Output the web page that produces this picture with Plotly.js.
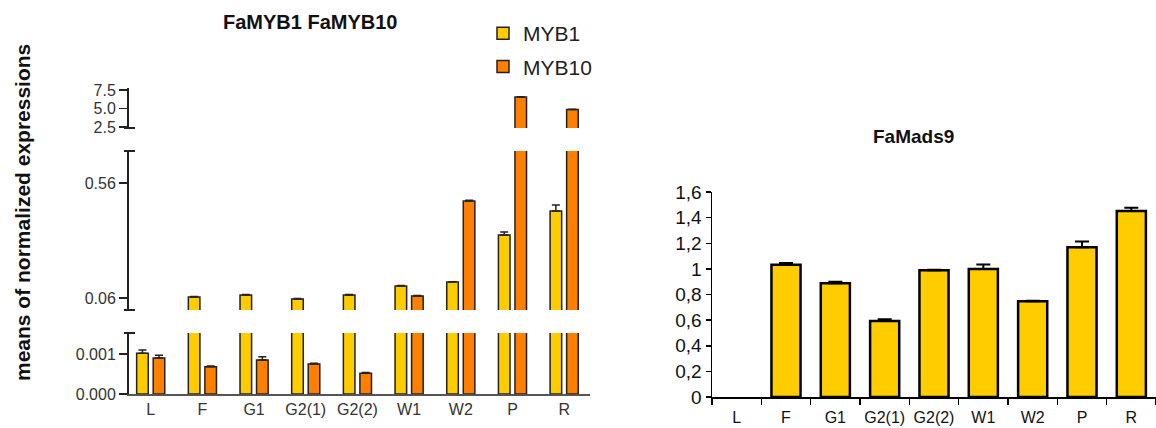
<!DOCTYPE html>
<html>
<head>
<meta charset="utf-8">
<script src="https://cdn.plot.ly/plotly-3.0.1.min.js"></script>
<style>html,body{margin:0;padding:0;background:#fff;}#chart{width:1156px;height:428px;}</style>
</head>
<body>
<div id="chart"></div>
<script>
// ---------- data ----------
const categories = ["L", "F", "G1", "G2(1)", "G2(2)", "W1", "W2", "P", "R"];

// FaMYB1 / FaMYB10 (left chart)
const myb1Values  = [0.00102, 0.064, 0.073, 0.056, 0.073, 0.112, 0.129, 0.334, 0.438];
const myb1Errors  = [0.00008, 0.002, 0.002, 0.002, 0.002, 0.002, 0.002, 0.013, 0.026];
const myb10Values = [0.00090, 0.00068, 0.00085, 0.00075, 0.00052, 0.069, 0.482, 6.55, 4.85];
const myb10Errors = [0.00007, 0.00002, 0.00008, 0.00002, 0.00002, 0.002, 0.003, 0.05, 0.05];

// FaMads9 (right chart) - no bar drawn for L
const mads9Values = [null, 1.033, 0.887, 0.593, 0.989, 0.999, 0.747, 1.169, 1.452];
const mads9Errors = [0, 0.013, 0.013, 0.013, 0.004, 0.036, 0.004, 0.044, 0.026];

// broken-axis tick labels
const topTickVals = [2.5, 5.0, 7.5];
const topTickText = ["2.5", "5.0", "7.5"];
const midTickVals = [0.06, 0.56];
const midTickText = ["0.06", "0.56"];
const lowTickVals = [0, 0.001];
const lowTickText = ["0.000", "0.001"];

// ---------- layout helpers ----------
const W = 1156, H = 428;
const px = v => v / W;
const py = v => 1 - v / H;

const FONT = "Liberation Sans, Arial, sans-serif";
const YEL = "#FFCC00", ORA = "#FF8000", EDGE = "#222222";

const zeros = categories.map(() => 0);

function pair(yaxis, show) {
  return [
    {type: "bar", name: "MYB1", x: categories, y: myb1Values, xaxis: "x", yaxis: yaxis,
     marker: {color: YEL, line: {color: EDGE, width: 1.5}}, showlegend: show, legendgroup: "a",
     error_y: {type: "data", symmetric: false, array: myb1Errors, arrayminus: zeros,
               color: EDGE, thickness: 1.5, width: 4}},
    {type: "bar", name: "MYB10", x: categories, y: myb10Values, xaxis: "x", yaxis: yaxis,
     marker: {color: ORA, line: {color: EDGE, width: 1.5}}, showlegend: show, legendgroup: "b",
     error_y: {type: "data", symmetric: false, array: myb10Errors, arrayminus: zeros,
               color: EDGE, thickness: 1.5, width: 4}}
  ];
}

const traces = [
  ...pair("y", true),
  ...pair("y2", false),
  ...pair("y3", false),
  {type: "bar", name: "FaMads9", x: categories, y: mads9Values, xaxis: "x2", yaxis: "y4",
   width: 0.59, showlegend: false,
   marker: {color: YEL, line: {color: "#000", width: 2.5}},
   error_y: {type: "data", symmetric: false, array: mads9Errors, arrayminus: zeros,
             color: "#000", thickness: 2, width: 7}}
];

const leftX0 = 129, leftX1 = 590;
const segLow = [333, 394], segMid = [151, 310], segTop = [88, 128];

const yCommon = {
  anchor: "x", showline: true, linecolor: EDGE, linewidth: 2, ticks: "outside",
  ticklen: 8, tickwidth: 1.5, tickcolor: EDGE, showgrid: false, zeroline: false,
  tickmode: "array", tickfont: {family: FONT, size: 16, color: "#333"}, automargin: false,
  fixedrange: true
};

function cap(yref, yv) {
  return {type: "line", xref: "paper", yref: yref, x0: px(leftX0 - 5), x1: px(leftX0 + 6),
          y0: yv, y1: yv, line: {color: EDGE, width: 2}};
}

const layout = {
  width: W, height: H,
  margin: {l: 0, r: 0, t: 0, b: 0, pad: 0},
  paper_bgcolor: "#fff", plot_bgcolor: "rgba(0,0,0,0)",
  separators: ",.",
  barmode: "group", bargap: 0.36, bargroupgap: 0.3,
  font: {family: FONT, color: "#222"},
  showlegend: true,
  legend: {x: px(483), y: py(13), xanchor: "left", yanchor: "top",
           font: {family: FONT, size: 21, color: "#222"}, bgcolor: "rgba(0,0,0,0)",
           tracegroupgap: 3},
  xaxis: {domain: [px(leftX0), px(leftX1)], anchor: "y", range: [-0.42, 8.5],
          showline: true, linecolor: "#555", linewidth: 2, ticks: "", showgrid: false,
          tickangle: 0,
          tickfont: {family: FONT, size: 16, color: "#333"}, automargin: false, fixedrange: true},
  yaxis: Object.assign({}, yCommon, {domain: [py(segLow[1]), py(segLow[0])],
          range: [0, 0.001525], tickvals: lowTickVals, ticktext: lowTickText}),
  yaxis2: Object.assign({}, yCommon, {domain: [py(segMid[1]), py(segMid[0])],
          range: [0.0078, 0.699], tickvals: midTickVals, ticktext: midTickText}),
  yaxis3: Object.assign({}, yCommon, {domain: [py(segTop[1]), py(segTop[0])],
          range: [2.36, 7.77], tickvals: topTickVals, ticktext: topTickText}),
  xaxis2: {domain: [px(712), 1], anchor: "y4", range: [-0.5, 8.5],
           showline: true, linecolor: "#000", linewidth: 2, ticks: "outside", tickson: "boundaries",
           ticklen: 6, tickwidth: 1.5, tickcolor: "#000", showgrid: false, tickangle: 0,
           ticklabelstandoff: 5,
           tickfont: {family: FONT, size: 16, color: "#111"}, automargin: false, fixedrange: true},
  yaxis4: {domain: [py(397), py(192)], anchor: "x2", range: [0, 1.6], dtick: 0.2,
           showline: true, linecolor: "#000", linewidth: 1.5, ticks: "outside", ticklen: 5,
           tickwidth: 1.5, tickcolor: "#000", showgrid: false, zeroline: false,
           tickfont: {family: FONT, size: 19, color: "#111"}, automargin: false, fixedrange: true},
  shapes: [
    cap("y3 domain", 0),
    cap("y2 domain", 1),
    cap("y2 domain", 0),
    cap("y domain", 1)
  ],
  annotations: [
    {text: "<b>FaMYB1 FaMYB10</b>", xref: "paper", yref: "paper", x: px(310), y: py(22),
     xanchor: "center", yanchor: "middle",
     showarrow: false, font: {family: FONT, size: 20, color: "#111"}},
    {text: "<b>FaMads9</b>", xref: "paper", yref: "paper", x: px(913), y: py(136),
     xanchor: "center", yanchor: "middle",
     showarrow: false, font: {family: FONT, size: 19, color: "#111"}},
    {text: "<b>means of normalized expressions</b>", xref: "paper", yref: "paper",
     x: px(22), y: py(213), textangle: -90, showarrow: false,
     xanchor: "center", yanchor: "middle",
     font: {family: FONT, size: 21, color: "#111"}}
  ]
};

Plotly.newPlot("chart", traces, layout, {staticPlot: true, displayModeBar: false});
</script>
</body>
</html>
